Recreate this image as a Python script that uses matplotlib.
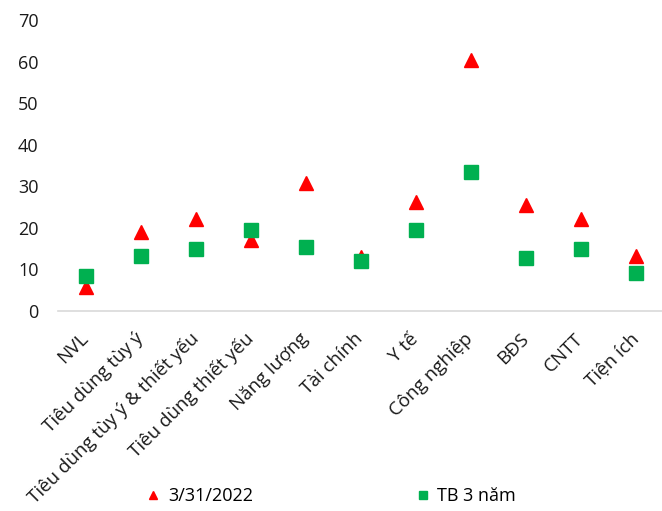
import matplotlib.pyplot as plt
import numpy as np

plt.rcParams['font.family'] = ['Open Sans', 'DejaVu Sans']

categories = ['NVL', 'Tiêu dùng tùy ý', 'Tiêu dùng tùy ý & thiết yếu', 'Tiêu dùng thiết yếu',
              'Năng lượng', 'Tài chính', 'Y tế', 'Công nghiệp', 'BĐS', 'CNTT', 'Tiện ích']
val_2022 = [5.7, 19.0, 22.1, 17.1, 30.7, 13.0, 26.3, 60.3, 25.6, 22.1, 13.2]
val_tb3 = [8.5, 13.3, 14.9, 19.5, 15.5, 12.1, 19.5, 33.5, 12.8, 14.9, 9.2]
yticks = [0, 10, 20, 30, 40, 50, 60, 70]

fig = plt.figure(figsize=(6.62, 5.11), dpi=100)
ax = fig.add_axes([58 / 662, 1 - 311 / 511, 605 / 662, 291 / 511])

x = np.arange(len(categories))
ax.plot(x, val_2022, linestyle='none', marker='^', markersize=9.5,
        color='#FF0000', label='3/31/2022', zorder=2)
ax.plot(x, val_tb3, linestyle='none', marker='s', markersize=10,
        color='#00B050', label='TB 3 năm', zorder=3)

ax.set_xlim(-0.5, len(categories) - 0.5)
ax.set_ylim(0, 70)
ax.set_yticks(yticks)
ax.set_xticks(x)
ax.set_xticklabels(categories, rotation=45, ha='right', va='center',
                   rotation_mode='anchor', fontsize=13.5)
ax.tick_params(axis='both', length=0, labelsize=13, colors='#1a1a1a')
ax.tick_params(axis='x', labelsize=13.5, pad=18)
ax.tick_params(axis='y', pad=14)

for side in ['top', 'right', 'left']:
    ax.spines[side].set_visible(False)
ax.spines['bottom'].set_color('#d9d9d9')
ax.spines['bottom'].set_linewidth(1.2)

fig.legend(loc='center', bbox_to_anchor=(331 / 662, 1 - 496 / 511), ncol=2,
           frameon=False, fontsize=13, markerscale=0.6, handlelength=0.8,
           handletextpad=0.4, columnspacing=9)

fig.savefig('out.png', dpi=100)
